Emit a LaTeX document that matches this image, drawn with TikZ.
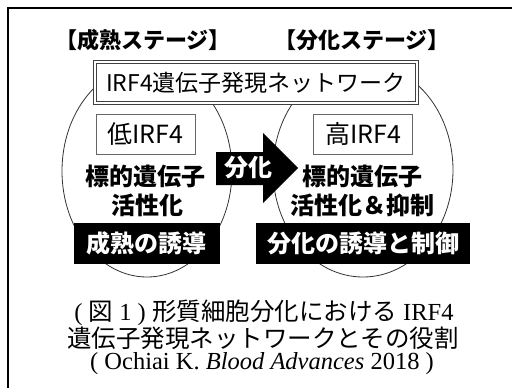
\documentclass[tikz,border=0pt]{standalone}
\usepackage{fontspec}
\setmainfont{Liberation Serif}
\newfontfamily\jp{Noto Sans CJK JP}
\usetikzlibrary{shapes.geometric}
\tikzset{
  title/.style={inner sep=0pt, font=\jp\bfseries\fontsize{22}{22}\selectfont},
  netbox/.style={draw=black!75, double=white, double distance=1.6pt, line width=0.8pt, fill=white,
    minimum width=322pt, minimum height=41pt, inner sep=0pt, font=\jp\fontsize{23}{23}\selectfont},
  cell/.style={draw=black!80, line width=0.8pt, ellipse, inner sep=0pt},
  smallbox/.style={draw=black!60, line width=1pt, fill=white, minimum width=99pt, minimum height=40pt,
    inner sep=0pt, font=\jp\fontsize{25}{25}\selectfont},
  bt/.style={inner sep=0pt, font=\jp\bfseries\fontsize{24}{24}\selectfont},
  blackbox/.style={fill=black, text=white, minimum height=41pt, inner sep=0pt,
    font=\jp\bfseries\fontsize{24}{24}\selectfont},
  captext/.style={inner sep=0pt, font=\fontsize{24.5}{24.5}\selectfont},
}
\begin{document}
\begin{tikzpicture}[x=1pt,y=-1pt]
\useasboundingbox (0,0) rectangle (512,388);
\fill[white] (0,0) rectangle (512,388);
% frame
\coordinate (fr1) at (512,8);
\coordinate (fr2) at (8,8);
\coordinate (fr3) at (8,388);
\draw[line width=2pt, black] (fr1) -- (fr2) -- (fr3);
% stage titles
\node[title] (t1) at (143,40) {【成熟ステージ】};
\node[title] (t2) at (362,40) {【分化ステージ】};
% cells
\node[cell, minimum width=170pt, minimum height=212pt] (e1) at (147,171) {};
\node[cell, minimum width=180pt, minimum height=214pt] (e2) at (363,170) {};
% network box
\node[netbox] (net) at (256,82.5) {IRF4遺伝子発現ネットワーク};
% small boxes
\node[smallbox] (lo) at (145.5,134) {低IRF4};
\node[smallbox] (hi) at (363,134) {高IRF4};
% target texts
\node[bt] (tg1) at (145,176) {標的遺伝子};
\node[bt] (ac1) at (147,205) {活性化};
\node[bt] (tg2) at (362,176) {標的遺伝子};
\node[bt] (ac2) at (362,205) {活性化＆抑制};
% black boxes
\node[blackbox, minimum width=146pt] (b1) at (146.5,243) {成熟の誘導};
\node[blackbox, minimum width=214pt] (b2) at (363,243) {分化の誘導と制御};
% arrow
\fill[black] (216,152) -- (263,152) -- (263,133) -- (298,168) -- (263,203) -- (263,185) -- (216,185) -- cycle;
\node[bt, text=white] (arr) at (248,168) {分化};
% caption
\node[captext] (c1) at (264,313) {( {\jp 図} 1 ) {\jp 形質細胞分化における} IRF4};
\node[captext] (c2) at (263,338) {\jp 遺伝子発現ネットワークとその役割};
\node[captext] (c3) at (262,364) {( Ochiai K. \textit{Blood Advances} 2018 )};
\end{tikzpicture}
\end{document}
